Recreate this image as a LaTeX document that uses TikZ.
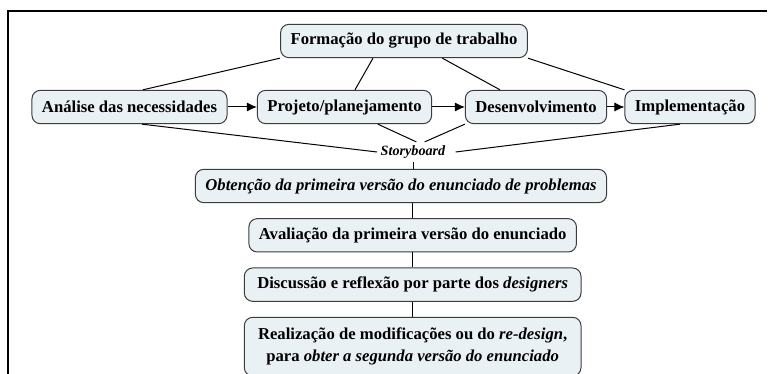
\documentclass[tikz,border=0pt]{standalone}
\usepackage{fontspec}
\setmainfont{Liberation Serif}
\usepackage{xcolor}
\usepackage{tikz}
\usetikzlibrary{arrows.meta, positioning}
\definecolor{boxfill}{HTML}{EAF1F4}
\definecolor{boxline}{HTML}{3C3C3C}

\begin{document}
\begin{tikzpicture}[
    x=0.6pt, y=-0.6pt,
    box/.style={draw=boxline, rounded corners=5pt, fill=boxfill, line width=0.6pt,
                minimum height=20pt, inner xsep=6pt, inner ysep=3pt,
                align=center, font=\bfseries},
    arrow/.style={-{Latex[length=6pt,width=5.5pt]}, line width=0.6pt},
    link/.style={line width=0.6pt},
    node distance=9pt,
]
    \useasboundingbox (0,0) rectangle (770,374);
    \draw[line width=1.1pt] (8,374) -- (8,11) -- (767,11);

    \node[box] (formacao) at (404,41)  {Formação do grupo de trabalho};
    \node[box] (analise)  at (129.5,107) {Análise das necessidades};
    \node[box] (projeto)  at (344.5,107) {Projeto/planejamento};
    \node[box] (desenv)   at (536,107) {Desenvolvimento};
    \node[box] (implem)   at (690,107) {Implementação};
    \node[font=\bfseries\itshape\fontsize{8.5}{10}\selectfont, inner sep=2pt] (story) at (413,152) {Storyboard};

    \node[box, font=\bfseries\itshape] (obtencao) at (401,186)
        {Obtenção da primeira versão do enunciado de problemas};
    \node[box, below=of obtencao, xshift=7pt] (avaliacao) {Avaliação da primeira versão do enunciado};
    \node[box, below=of avaliacao, minimum width=202pt] (discussao)
        {Discussão e reflexão por parte dos \textit{designers}};
    \node[box, below=of discussao, minimum width=202pt, inner ysep=6.5pt] (realizacao)
        {Realização de modificações ou do \textit{re-design},\\[1pt] para \textit{obter a segunda versão do enunciado}};

    \foreach \a/\b in {analise/projeto, projeto/desenv, desenv/implem}
        \draw[arrow] (\a) -- (\b);

    \draw[link] (formacao.south west) -- ([xshift=8pt]analise.north);
    \draw[link] ([xshift=-18.6pt]formacao.south) -- ([xshift=6.3pt]projeto.north);
    \draw[link] ([xshift=23pt]formacao.south) -- ([xshift=-21.6pt]desenv.north);
    \draw[link] (formacao.south east) -- (implem.north west);

    \draw[link] ([xshift=7.5pt]analise.south) -- (story.west);
    \draw[link] ([xshift=20pt]projeto.south) -- ([xshift=2pt]story.north);
    \draw[link] (desenv.south west) -- ([xshift=7pt]story.north);
    \draw[link] ([xshift=-6pt]implem.south) -- ([xshift=4pt]story.east);

    \draw[link] (story.south) -- (story.south |- obtencao.north);
    \foreach \a/\b in {obtencao/avaliacao, avaliacao/discussao, discussao/realizacao}
        \draw[link] (\b.north) -- (\b.north |- \a.south);
\end{tikzpicture}
\end{document}
